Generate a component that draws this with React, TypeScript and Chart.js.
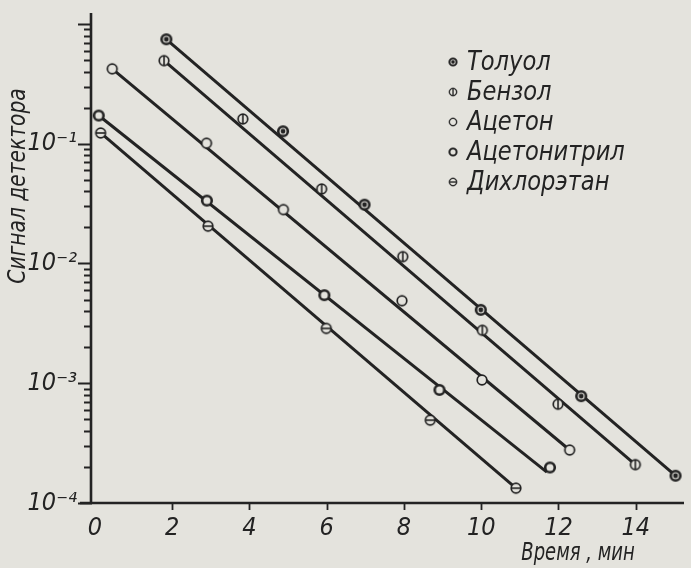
import React, { useEffect, useRef } from 'react';
import { Chart, registerables } from 'chart.js';

Chart.register(...registerables);

// ---- data ----
const seriesNames = ['Толуол', 'Бензол', 'Ацетон', 'Ацетонитрил', 'Дихлорэтан'];

// measured points (markers)
const tolueneTime = [1.85, 4.87, 6.98, 9.99, 12.59, 15.03];
const tolueneSignal = [0.745, 0.127, 0.031, 0.0041, 0.00078, 0.000169];

const benzeneTime = [1.79, 3.83, 5.87, 7.97, 10.03, 11.99, 13.99];
const benzeneSignal = [0.494, 0.161, 0.0419, 0.0114, 0.00277, 0.000668, 0.000209];

const acetoneTime = [0.45, 2.89, 4.88, 7.95, 10.02, 12.29];
const acetoneSignal = [0.422, 0.101, 0.0282, 0.00489, 0.001065, 0.000277];

const acetonitrileTime = [0.1, 2.9, 5.94, 8.92, 11.78];
const acetonitrileSignal = [0.172, 0.0335, 0.00544, 0.00088, 0.000198];

const dichloroethaneTime = [0.15, 2.93, 5.99, 8.68, 10.9];
const dichloroethaneSignal = [0.123, 0.0205, 0.00287, 0.000492, 0.000133];

// drawn straight lines (start, end)
const tolueneLineTime = [1.85, 15.03];
const tolueneLineSignal = [0.745, 0.000169];
const benzeneLineTime = [1.79, 13.99];
const benzeneLineSignal = [0.494, 0.000209];
const acetoneLineTime = [0.45, 12.29];
const acetoneLineSignal = [0.422, 0.000277];
const acetonitrileLineTime = [0.1, 11.7];
const acetonitrileLineSignal = [0.172, 0.000181];
const dichloroethaneLineTime = [0.15, 10.9];
const dichloroethaneLineSignal = [0.123, 0.000133];

const xTickValues = [0, 2, 4, 6, 8, 10, 12, 14];
const yMajorTickValues = [1e-4, 1e-3, 1e-2, 1e-1];
const yTickLabels = ['10⁻⁴', '10⁻³', '10⁻²', '10⁻¹'];
const yMinorMultipliers = [2, 3, 4, 5, 6, 7, 8, 9];

const xTitle = 'Время , мин';
const yTitle = 'Сигнал детектора';

// ---- style ----
const BG = '#e4e3dd';
const INK = '#232323';
const FONT = "'DejaVu Sans Condensed', 'DejaVu Sans', sans-serif";
const markerKinds = ['dot', 'vbar', 'open', 'bold', 'hbar'];
const MS = 16;

function makeMarker(kind: string): HTMLCanvasElement {
  const c = document.createElement('canvas');
  c.width = MS;
  c.height = MS;
  const g = c.getContext('2d')!;
  const cx = MS / 2, cy = MS / 2, r = 4.8;
  g.beginPath();
  g.arc(cx, cy, r, 0, Math.PI * 2);
  g.fillStyle = BG;
  g.fill();
  g.strokeStyle = INK;
  g.lineWidth = kind === 'bold' || kind === 'dot' ? 2.6 : 1.7;
  g.stroke();
  if (kind === 'dot') {
    g.beginPath();
    g.arc(cx, cy, 2.4, 0, Math.PI * 2);
    g.fillStyle = INK;
    g.fill();
  }
  if (kind === 'vbar') {
    g.beginPath();
    g.moveTo(cx, cy - r);
    g.lineTo(cx, cy + r);
    g.lineWidth = 1.6;
    g.stroke();
  }
  if (kind === 'hbar') {
    g.beginPath();
    g.moveTo(cx - r, cy);
    g.lineTo(cx + r, cy);
    g.lineWidth = 1.6;
    g.stroke();
  }
  return c;
}

function makePaperPlugin(markers: HTMLCanvasElement[]) {
  return {
    id: 'paper',
    beforeDraw(chart: any) {
      const { ctx, width, height } = chart;
      ctx.save();
      ctx.fillStyle = BG;
      ctx.fillRect(0, 0, width, height);
      ctx.restore();
    },
    beforeDatasetsDraw(chart: any) {
      const { ctx } = chart;
      const xs = chart.scales.x;
      const ys = chart.scales.y;
      const left = xs.left;
      const bottom = ys.bottom;
      ctx.save();
      ctx.strokeStyle = INK;
      ctx.lineCap = 'butt';
      ctx.lineWidth = 2.6;
      ctx.beginPath();
      ctx.moveTo(left, ys.top);
      ctx.lineTo(left, bottom + 1);
      ctx.moveTo(left - 11, bottom);
      ctx.lineTo(xs.right, bottom);
      ctx.stroke();
      ctx.lineWidth = 1.8;
      const majors = [...yMajorTickValues, 1];
      ctx.beginPath();
      for (const v of majors) {
        const py = Math.round(ys.getPixelForValue(v)) + 0.5;
        ctx.moveTo(left - 13, py);
        ctx.lineTo(left + 1, py);
      }
      for (const d of yMajorTickValues) {
        for (const m of yMinorMultipliers) {
          const py = Math.round(ys.getPixelForValue(d * m)) + 0.5;
          ctx.moveTo(left - 7, py);
          ctx.lineTo(left + 1, py);
        }
      }
      for (const v of xTickValues) {
        if (v === 0) continue;
        const px = Math.round(xs.getPixelForValue(v)) + 0.5;
        ctx.moveTo(px, bottom);
        ctx.lineTo(px, bottom + 7);
      }
      ctx.stroke();
      ctx.restore();
    },
    afterDraw(chart: any) {
      const { ctx } = chart;
      ctx.save();
      ctx.fillStyle = INK;
      ctx.font = `italic 27px ${FONT}`;
      ctx.textAlign = 'left';
      ctx.textBaseline = 'alphabetic';
      seriesNames.forEach((name, i) => {
        const base = 70 + i * 30;
        ctx.drawImage(markers[i], 453 - 6, base - 8 - 6, 12, 12);
        ctx.save();
        ctx.translate(467, base);
        ctx.scale(0.93, 1);
        ctx.fillText(name, 0, 0);
        ctx.restore();
      });
      ctx.font = `italic 25px ${FONT}`;
      ctx.textAlign = 'center';
      ctx.textBaseline = 'middle';
      ctx.save();
      ctx.translate(578, 553);
      ctx.scale(0.8, 1);
      ctx.fillText(xTitle, 0, 0);
      ctx.restore();
      ctx.save();
      ctx.translate(18, 186);
      ctx.rotate(-Math.PI / 2);
      ctx.scale(0.9, 1);
      ctx.fillText(yTitle, 0, 0);
      ctx.restore();
      ctx.restore();
    },
  };
}

export default function App() {
  const ref = useRef<HTMLCanvasElement>(null);

  useEffect(() => {
    const markers = markerKinds.map(makeMarker);
    const times = [tolueneTime, benzeneTime, acetoneTime, acetonitrileTime, dichloroethaneTime];
    const signals = [tolueneSignal, benzeneSignal, acetoneSignal, acetonitrileSignal, dichloroethaneSignal];
    const lineTimes = [tolueneLineTime, benzeneLineTime, acetoneLineTime, acetonitrileLineTime, dichloroethaneLineTime];
    const lineSignals = [tolueneLineSignal, benzeneLineSignal, acetoneLineSignal, acetonitrileLineSignal, dichloroethaneLineSignal];

    const lineSets = seriesNames.map((name, i) => ({
      label: name + ' (линия)',
      data: lineTimes[i].map((t, k) => ({ x: t, y: lineSignals[i][k] })),
      borderColor: INK,
      borderWidth: 3,
      tension: 0,
      pointRadius: 0,
      pointHoverRadius: 0,
      fill: false,
      order: 2,
    }));
    const pointSets = seriesNames.map((name, i) => ({
      label: name,
      data: times[i].map((t, k) => ({ x: t, y: signals[i][k] })),
      showLine: false,
      borderColor: INK,
      pointStyle: markers[i],
      pointRadius: 6,
      pointHoverRadius: 6,
      fill: false,
      order: 1,
    }));

    const chart = new Chart(ref.current!, {
      type: 'line',
      data: { datasets: [...lineSets, ...pointSets] },
      plugins: [makePaperPlugin(markers)],
      options: {
        animation: false,
        responsive: true,
        maintainAspectRatio: false,
        layout: { padding: { top: 13, right: 6, left: 0, bottom: 0 } },
        plugins: { legend: { display: false }, tooltip: { enabled: false } },
        scales: {
          x: {
            type: 'linear',
            min: -0.1,
            max: 15.25,
            grid: { display: false, drawTicks: false },
            border: { display: false },
            afterFit: (s: any) => {
              s.height = 65;
              s.paddingLeft = 0;
              s.paddingRight = 0;
            },
            afterBuildTicks: (s: any) => { s.ticks = xTickValues.map((v) => ({ value: v })); },
            ticks: {
              padding: 10,
              color: INK,
              font: { family: FONT, size: 25, style: 'italic' },
              callback: (v: any) => String(v),
            },
          },
          y: {
            type: 'logarithmic',
            min: 1e-4,
            max: 1.235,
            grid: { display: false, drawTicks: false },
            border: { display: false },
            afterFit: (s: any) => {
              s.width = 91;
              s.paddingTop = 0;
              s.paddingBottom = 0;
            },
            afterBuildTicks: (s: any) => { s.ticks = yMajorTickValues.map((v) => ({ value: v })); },
            ticks: {
              padding: 14,
              color: INK,
              font: { family: FONT, size: 25, style: 'italic' },
              callback: (v: any) => {
                const idx = yMajorTickValues.findIndex((t) => Math.abs(Math.log10(t) - Math.log10(v)) < 1e-6);
                return idx >= 0 ? yTickLabels[idx] : '';
              },
            },
          },
        },
      },
    });
    return () => chart.destroy();
  }, []);

  return (
    <div style={{ position: 'fixed', left: 0, top: 0, width: 691, height: 568, background: BG }}>
      <canvas ref={ref} />
    </div>
  );
}
